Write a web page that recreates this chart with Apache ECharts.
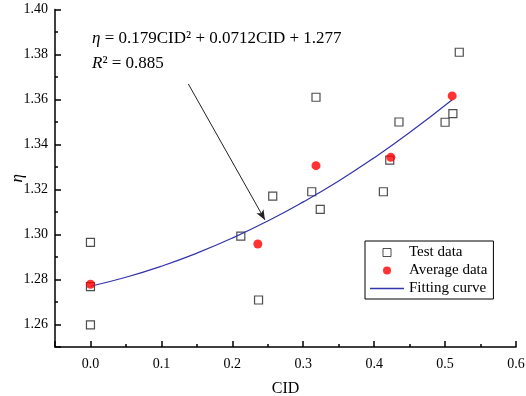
<!DOCTYPE html>
<html>
<head>
<meta charset="utf-8">
<script src="https://cdn.jsdelivr.net/npm/echarts@6/dist/echarts.min.js"></script>
<style>
  html, body { margin: 0; padding: 0; background: #fff; }
  #chart { width: 526px; height: 396px; }
</style>
</head>
<body>
<div id="chart"></div>
<script>
// test data (CID, eta)
const testData = [
  [0, 1.2965], [0, 1.2768], [0, 1.2598],
  [0.212, 1.2993], [0.237, 1.2709], [0.257, 1.3171],
  [0.312, 1.319], [0.318, 1.361], [0.324, 1.3112],
  [0.413, 1.319], [0.422, 1.3331], [0.435, 1.350],
  [0.500, 1.3499], [0.511, 1.3537], [0.520, 1.381]
];
// averages per group
const averageData = [
  [0, 1.2779], [0.236, 1.2958], [0.318, 1.3306], [0.4235, 1.3343], [0.51, 1.3616]
];
// points
const fitX = [0, 0.05, 0.1, 0.15, 0.2, 0.25, 0.3, 0.35, 0.4, 0.45, 0.51];
const fitY = [1.277, 1.281, 1.2859, 1.2917, 1.2984, 1.306, 1.3145, 1.3238, 1.3341, 1.3453, 1.3599];
// annotation arrow: from text to curve
const arrowFrom = [0.138, 1.3669];
const arrowTo = [0.246, 1.3065];

const serif = '"Liberation Serif", "Times New Roman", serif';
const chart = echarts.init(document.getElementById('chart'));

const axisCommon = {
  nameMoveOverlap: false,
  axisLine: { onZero: false, lineStyle: { color: '#000', width: 1.5 } },
  axisTick: { inside: true, length: 6, lineStyle: { color: '#000', width: 1.5 } },
  minorTick: { show: true, splitNumber: 2, length: 3, lineStyle: { color: '#000', width: 1.5 } },
  splitLine: { show: false },
  nameTextStyle: { fontFamily: serif, fontSize: 16, color: '#000' }
};

chart.setOption({
  animation: false,
  backgroundColor: '#fff',
  grid: { left: 55, right: 10, top: 9.5, bottom: 49, containLabel: false, outerBoundsMode: 'none' },
  xAxis: {
    type: 'value',
    min: -0.05,
    max: 0.6,
    splitNumber: 7,
    name: 'CID',
    nameLocation: 'middle',
    nameGap: 34,
    ...axisCommon,
    axisLabel: {
      fontFamily: serif, fontSize: 14, color: '#000', margin: 10,
      showMinLabel: false,
      formatter: v => (v < -0.001 ? '' : v.toFixed(1))
    }
  },
  yAxis: {
    type: 'value',
    min: 1.25,
    max: 1.40,
    splitNumber: 7,
    name: 'η',
    nameLocation: 'middle',
    nameGap: 29,
    ...axisCommon,
    nameTextStyle: { fontFamily: serif, fontSize: 17, fontStyle: 'italic', color: '#000' },
    axisLabel: {
      fontFamily: serif, fontSize: 14, color: '#000', margin: 7,
      formatter: v => (v < 1.255 ? '' : v.toFixed(2))
    }
  },
  legend: {
    orient: 'vertical',
    left: 365,
    top: 241,
    padding: [4, 6, 3, 5],
    itemWidth: 34,
    itemHeight: 8,
    itemGap: 3,
    borderColor: '#000',
    borderWidth: 1,
    textStyle: { fontFamily: serif, fontSize: 15, color: '#000' },
    data: [
      { name: 'Test data', icon: 'path://M0,0H10V10H0Z', itemStyle: { borderWidth: 1 } },
      { name: 'Average data', icon: 'circle' },
      { name: 'Fitting curve', icon: 'path://M0,0H34V1.3H0Z' }
    ]
  },
  graphic: [
    {
      type: 'text',
      left: 92,
      top: 30,
      style: {
        text: '{i|η} = 0.179CID² + 0.0712CID + 1.277',
        font: '17px ' + serif,
        fill: '#000',
        rich: { i: { fontStyle: 'italic', fontFamily: serif, fontSize: 17 } }
      }
    },
    {
      type: 'text',
      left: 92,
      top: 55,
      style: {
        text: '{i|R}² = 0.885',
        font: '17px ' + serif,
        fill: '#000',
        rich: { i: { fontStyle: 'italic', fontFamily: serif, fontSize: 17 } }
      }
    }
  ],
  series: [
    {
      name: 'Test data',
      type: 'scatter',
      symbol: 'rect',
      symbolSize: 8,
      z: 2,
      itemStyle: { color: 'rgba(0,0,0,0)', borderColor: '#222', borderWidth: 1.2 },
      data: testData
    },
    {
      name: 'Fitting curve',
      type: 'line',
      smooth: true,
      symbol: 'none',
      z: 3,
      itemStyle: { color: '#3333aa' },
      lineStyle: { color: '#3333aa', width: 1.2 },
      data: fitX.map((x, i) => [x, fitY[i]]),
      markLine: {
        silent: true,
        symbol: ['none', 'arrow'],
        symbolSize: [6, 10],
        label: { show: false },
        itemStyle: { color: '#222' },
        lineStyle: { color: '#222', width: 1, type: 'solid' },
        data: [[{ coord: arrowFrom }, { coord: arrowTo }]]
      }
    },
    {
      name: 'Average data',
      type: 'scatter',
      symbol: 'circle',
      symbolSize: 9,
      z: 4,
      itemStyle: { color: '#ff0000' },
      data: averageData
    }
  ]
});
</script>
</body>
</html>
